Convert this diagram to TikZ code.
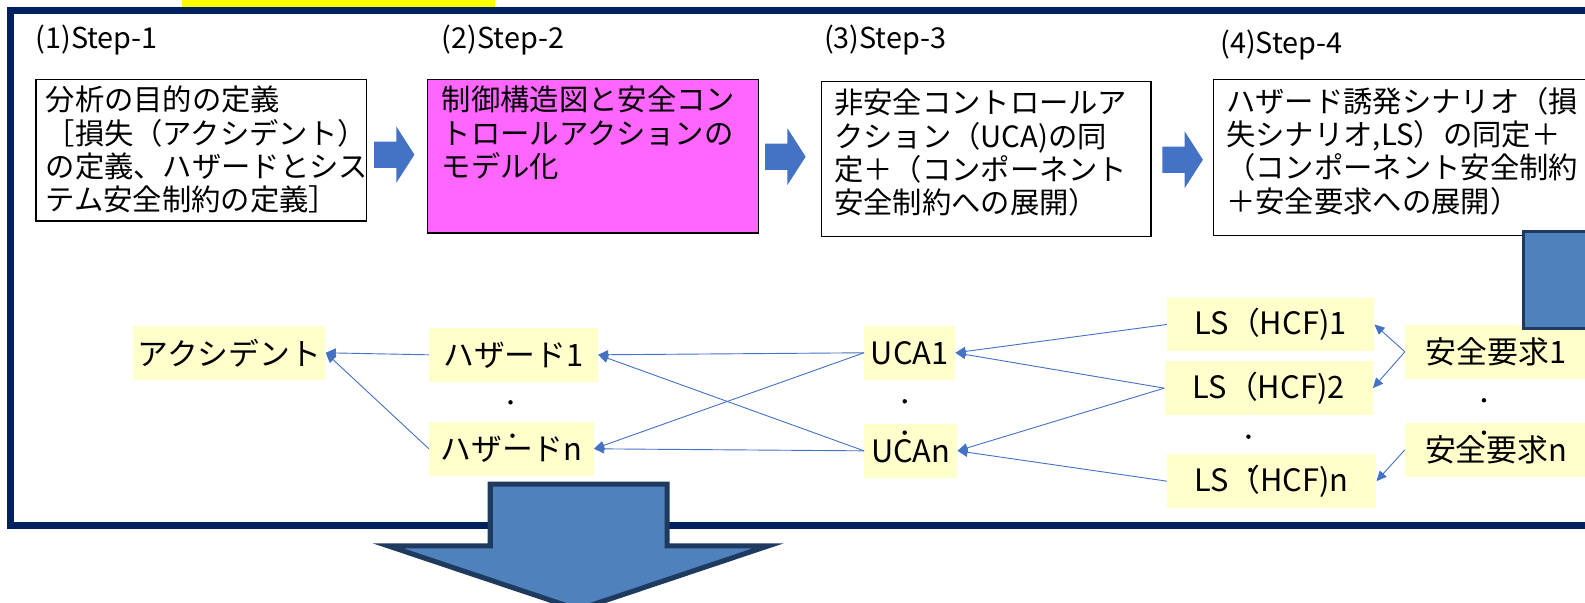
\documentclass[tikz,border=0pt]{standalone}
\usepackage{fontspec}
\setmainfont{Noto Sans CJK JP}
\usetikzlibrary{arrows.meta}
\definecolor{navy}{HTML}{002060}
\definecolor{topbar}{HTML}{FFFF00}
\definecolor{magentabox}{HTML}{FF66FF}
\definecolor{lightyellow}{HTML}{FFFFCC}
\definecolor{arrowblue}{HTML}{4472C4}
\definecolor{bigblue}{HTML}{4F81BD}
\definecolor{darkedge}{HTML}{1F3A5F}
\tikzset{
  stepbox/.style={draw=black, line width=1.2pt, fill=white, inner sep=0pt, anchor=north west},
  boxtext/.style={anchor=north west, align=left, inner sep=0pt, font=\fontsize{29}{33}\selectfont},
  steplabel/.style={anchor=west, inner sep=0pt, font=\fontsize{28.5}{30}\selectfont},
  ynode/.style={fill=lightyellow, inner sep=0pt, minimum height=53pt, font=\fontsize{30.5}{32}\selectfont},
  conn/.style={draw=arrowblue, line width=0.9pt, -{Triangle[length=10pt,width=9pt]}},
  blockarrow/.style={fill=arrowblue},
  dotmark/.style={fill=black}
}
\begin{document}
\begin{tikzpicture}[x=1pt,y=-1pt]
\useasboundingbox (0,0) rectangle (1568,596);
\clip (0,0) rectangle (1568,596);
\fill[white] (0,0) rectangle (1568,596);
\fill[topbar] (180,0) rectangle (490,7);
\draw[navy, line width=7pt] (1620,10) -- (10,10) -- (10,520) -- (1620,520);

% step labels
\node[steplabel] (l1) at (35,40) {(1)Step-1};
\node[steplabel] (l2) at (437,40) {(2)Step-2};
\node[steplabel] (l3) at (815,40) {(3)Step-3};
\node[steplabel] (l4) at (1207,45) {(4)Step-4};

% step boxes
\node[stepbox, minimum width=327pt, minimum height=140pt] (s1) at (35,78) {};
\node[boxtext] (t1) at (45,85) {分析の目的の定義\\［損失（アクシデント）\\の定義、ハザードとシス\\テム安全制約の定義］};
\node[stepbox, fill=magentabox, minimum width=328pt, minimum height=152pt] (s2) at (422,78) {};
\node[boxtext] (t2) at (437,85) {制御構造図と安全コン\\トロールアクションの\\モデル化};
\node[stepbox, minimum width=326pt, minimum height=153pt] (s3) at (812,80) {};
\node[boxtext] (t3) at (825,88) {非安全コントロールア\\クション（UCA)の同\\定＋（コンポーネント\\安全制約への展開）};
\node[stepbox, minimum width=420pt, minimum height=154pt] (s4) at (1200,78) {};
\node[boxtext] (t4) at (1213,86) {ハザード誘発シナリオ（損\\失シナリオ,LS）の同定＋\\（コンポーネント安全制約\\＋安全要求への展開）};

% block arrows between steps
\fill[blockarrow] (370,140) -- (392,140) -- (392,125) -- (410,153) -- (392,181) -- (392,166) -- (370,166) -- cycle;
\fill[blockarrow] (757,142) -- (779,142) -- (779,127) -- (797,155) -- (779,183) -- (779,168) -- (757,168) -- cycle;
\fill[blockarrow] (1150,145) -- (1172,145) -- (1172,130) -- (1190,158) -- (1172,186) -- (1172,171) -- (1150,171) -- cycle;

% bottom nodes
\node[ynode, minimum width=190pt] (acc) at (227,349) {アクシデント};
\node[ynode, minimum width=167pt] (h1) at (508,351) {ハザード1};
\node[ynode, minimum width=163pt] (hn) at (506,444) {ハザードn};
\node[ynode, minimum width=90pt] (u1) at (900,349) {UCA1};
\node[ynode, minimum width=92pt] (un) at (901,446) {UCAn};
\node[ynode, minimum width=205pt] (ls1) at (1257,321) {LS（HCF)1};
\node[ynode, minimum width=206pt] (ls2) at (1255,384) {LS（HCF)2};
\node[ynode, minimum width=207pt] (lsn) at (1258,476) {LS（HCF)n};
\node[ynode, minimum width=180pt] (r1) at (1480,348) {安全要求1};
\node[ynode, minimum width=180pt] (rn) at (1480,445) {安全要求n};

% connectors
\draw[conn] (h1.west) -- (acc.east);
\draw[conn] (hn.west) -- (acc.east);
\draw[conn] (u1.west) -- (h1.east);
\draw[conn] (u1.west) -- (hn.east);
\draw[conn] (un.west) -- (hn.east);
\draw[conn] (un.west) -- (h1.east);
\draw[conn] (ls1.west) -- (u1.east);
\draw[conn] (ls2.west) -- (u1.east);
\draw[conn] (ls2.west) -- (un.east);
\draw[conn] (lsn.west) -- (un.east);
\draw[conn] (r1.west) -- (ls1.east);
\draw[conn] (r1.west) -- (ls2.east);
\draw[conn] (rn.west) -- (lsn.east);

% vertical ellipsis dots
\fill[dotmark] (505,398) circle (2.2);
\fill[dotmark] (507,431) circle (2.2);
\fill[dotmark] (895,397) circle (2.2);
\fill[dotmark] (895,428) circle (2.2);
\fill[dotmark] (1235,432) circle (2.2);
\fill[dotmark] (1237,465) circle (2.2);
\fill[dotmark] (1468,396) circle (2.2);
\fill[dotmark] (1468,428) circle (2.2);

% blue square at right
\draw[fill=bigblue, draw=darkedge, line width=3pt] (1507,229) rectangle (1620,325);

% big down arrow
\draw[fill=bigblue, draw=darkedge, line width=5pt, line join=miter] (485,479) -- (660,479) -- (660,540) -- (760,540) -- (572,603) -- (384,540) -- (485,540) -- cycle;
\end{tikzpicture}
\end{document}
